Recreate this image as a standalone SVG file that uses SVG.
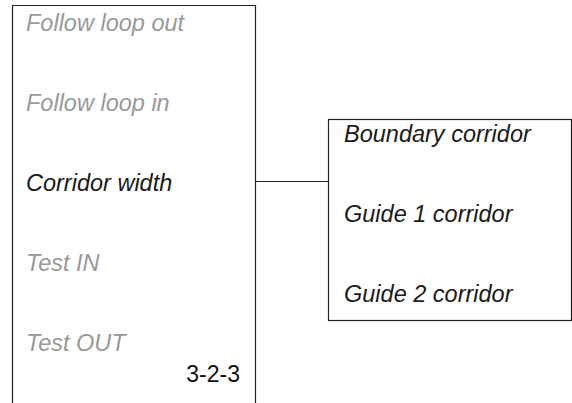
<svg xmlns="http://www.w3.org/2000/svg" width="572" height="403" viewBox="0 0 572 403">
<style>
.box{fill:#fff;stroke:#222;stroke-width:1.2}
.t{font-family:"Liberation Sans",Arial,sans-serif;font-size:23.5px;font-style:italic}
.g{fill:#999}
.k{fill:#1a1a1a}
.n{font-family:"Liberation Sans",Arial,sans-serif;font-size:23px;fill:#111}
.c{stroke:#222;stroke-width:1.2;fill:none}
</style>
<rect width="572" height="403" fill="#fff"/>
<g id="connectors">
<line class="c" x1="256" y1="181.5" x2="328.5" y2="181.5"/>
</g>
<g id="menu">
<path class="box" d="M12.5,403 V5.5 H255.5 V403"/>
<text class="t g" x="26" y="31">Follow loop out</text>
<text class="t g" x="26" y="111">Follow loop in</text>
<text class="t k" x="26" y="191">Corridor width</text>
<text class="t g" x="26" y="271">Test IN</text>
<text class="t g" x="26" y="351">Test OUT</text>
<text class="n" x="240" y="382" text-anchor="end">3-2-3</text>
</g>
<g id="submenu">
<rect class="box" x="328.5" y="119.5" width="243" height="201"/>
<text class="t k" x="344" y="142">Boundary corridor</text>
<text class="t k" x="344" y="222">Guide 1 corridor</text>
<text class="t k" x="344" y="302">Guide 2 corridor</text>
</g>
</svg>
